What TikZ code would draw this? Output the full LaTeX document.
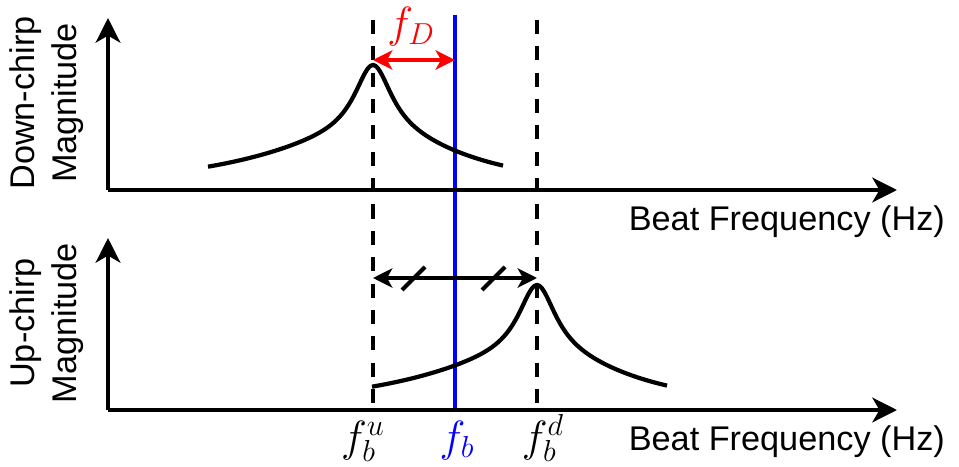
\documentclass[tikz,border=0pt]{standalone}
\usepackage{fontspec}
\setmainfont{Liberation Sans}
\usetikzlibrary{arrows.meta}

\begin{document}
\begin{tikzpicture}[x=0.02cm,y=-0.02cm,line width=2.4pt,
  >={Stealth[length=11pt,width=11pt,inset=3pt]},
  axis/.style={-{Stealth[length=14pt,width=14pt,inset=4pt]}},
  lbl/.style={font=\fontsize{19.5}{24}\selectfont,inner sep=0pt},
  mth/.style={font=\fontsize{23}{26}\selectfont,inner sep=0pt},
  guide/.style={dash pattern=on 8pt off 7pt}]
  \useasboundingbox (0,0) rectangle (959,466);
  % markers on the frequency axis
  \coordinate (u) at (373,20);  \coordinate (ub) at (373,410);
  \coordinate (d) at (537,20);  \coordinate (db) at (537,410);
  \coordinate (b) at (455,15);  \coordinate (bb) at (455,410);
  \draw[guide] (u) -- (ub);
  \draw[guide] (d) -- (db);
  \draw[blue] (b) -- (bb);
  \foreach \i/\y/\p/\t in {1/190/373/Down-chirp,2/410/537/Up-chirp}
  {
    \coordinate (o\i) at (108,\y);
    \coordinate (x\i) at (897,\y);
    \coordinate (y\i) at (108,{\y-172});
    \draw[axis] (o\i) -- (x\i);
    \draw[axis] (o\i) -- (y\i);
    \node[lbl,anchor=base east] (bf\i) at (947,{\y+40}) {Beat Frequency (Hz)};
    \node[lbl,rotate=90,align=center] (mag\i) at (47,{\y-87}) {\t\\Magnitude};
    \draw plot[domain=-165:0,samples=60,smooth]
      ({\p+\x},{\y-71.6/(1+(\x/22.8)*(\x/22.8))-53.4/(1+(\x/138)*(\x/138))})
      -- plot[domain=0:130,samples=50,smooth]
      ({\p+\x},{\y-71.6/(1+(\x/22.8)*(\x/22.8))-53.4/(1+(\x/110)*(\x/110))});
  }
  % Doppler shift
  \coordinate (pk) at (373,60);
  \draw[red,<->] (pk) -- (pk -| b);
  \node[mth,red,anchor=base] (fD) at (411,38) {$f_D$};
  % distance between the two peaks
  \coordinate (ua) at (373,278);
  \coordinate (da) at (537,278);
  \draw[<->] (ua) -- (da);
  \draw (402,290) -- (425,267);
  \draw (482,290) -- (505,267);
  % frequency labels
  \node[mth,anchor=base] (fu) at (363,451) {$f_b^u$};
  \node[mth,anchor=base,blue] (fb) at (457,451) {$f_b$};
  \node[mth,anchor=base] (fd) at (543,451) {$f_b^d$};
\end{tikzpicture}
\end{document}
